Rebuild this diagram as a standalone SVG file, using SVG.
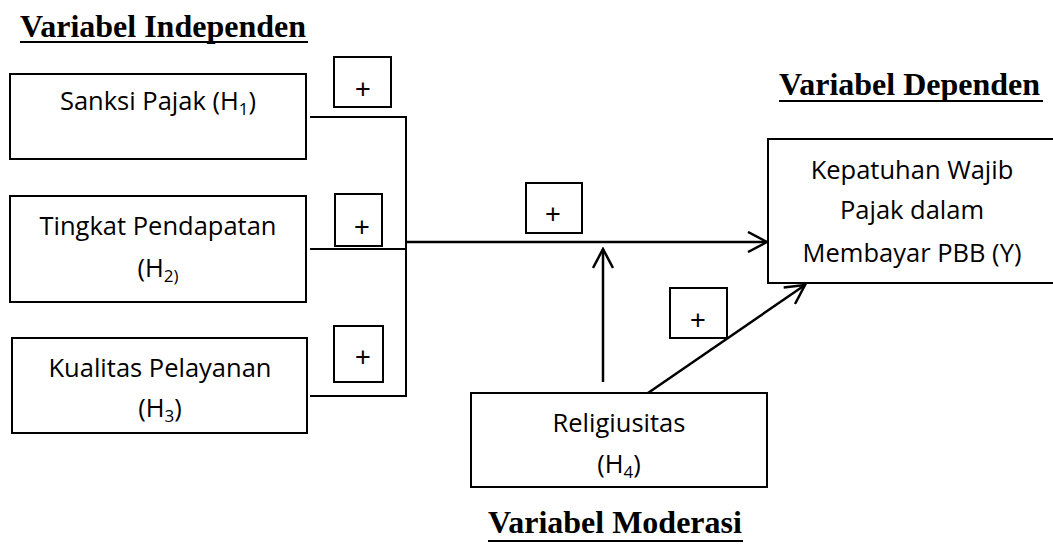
<svg xmlns="http://www.w3.org/2000/svg" width="1053" height="545" viewBox="0 0 1053 545">
<style>
.box{fill:#fff;stroke:#000;stroke-width:2}
.pbox{fill:#fff;stroke:#000;stroke-width:2}
.t{font-family:"Open Sans","Liberation Sans",sans-serif;font-size:25.5px;fill:#000;text-anchor:middle}
.p{font-family:"Liberation Sans","Open Sans",sans-serif;font-size:27px;fill:#000;text-anchor:middle}
.h{font-family:"Liberation Serif","Times New Roman",serif;font-size:32px;font-weight:bold;fill:#000}
.ln{stroke:#000;stroke-width:2;fill:none}
.ar{stroke:#000;stroke-width:2.5;fill:none}
.ul{stroke:#000;stroke-width:2}
</style>
<defs>
<marker id="arr" viewBox="0 0 22 22" refX="20" refY="11" markerWidth="22" markerHeight="22" markerUnits="userSpaceOnUse" orient="auto">
<path d="M1,1 L20,11 L1,21" fill="none" stroke="#000" stroke-width="2.5"/>
</marker>
</defs>

<g id="title-independen">
<text class="h" x="20" y="37">Variabel Independen</text>
<line class="ul" x1="20" y1="42" x2="308" y2="42"/>
</g>
<g id="title-dependen">
<text class="h" x="779" y="95">Variabel Dependen</text>
<line class="ul" x1="779" y1="101" x2="1043" y2="101"/>
</g>
<g id="title-moderasi">
<text class="h" x="488" y="533">Variabel Moderasi</text>
<line class="ul" x1="488" y1="541" x2="743" y2="541"/>
</g>

<g id="connectors">
<line class="ln" x1="310" y1="117" x2="406" y2="117"/>
<line class="ln" x1="310" y1="249" x2="406" y2="249"/>
<line class="ln" x1="310" y1="396" x2="406" y2="396"/>
<line class="ln" x1="406" y1="116" x2="406" y2="397"/>
<line class="ar" x1="406" y1="242" x2="767" y2="242" marker-end="url(#arr)"/>
<line class="ar" x1="603" y1="382" x2="603" y2="249" marker-end="url(#arr)"/>
<line class="ar" x1="648" y1="393" x2="805" y2="285" marker-end="url(#arr)"/>
</g>

<g id="sanksi">
<rect class="box" x="10" y="74" width="296" height="85"/>
<text class="t" x="158" y="110">Sanksi Pajak (H<tspan font-size="17" dy="5">1</tspan><tspan dy="-5">)</tspan></text>
</g>
<g id="plus1">
<rect class="pbox" x="334" y="57" width="57" height="50"/>
<text class="p" x="363" y="98">+</text>
</g>

<g id="pendapatan">
<rect class="box" x="10" y="196" width="296" height="106"/>
<text class="t" x="158" y="235">Tingkat Pendapatan</text>
<text class="t" x="158" y="277">(H<tspan font-size="17" dy="5">2)</tspan></text>
</g>
<g id="plus2">
<rect class="pbox" x="335" y="194" width="47" height="52"/>
<text class="p" x="362" y="236">+</text>
</g>

<g id="pelayanan">
<rect class="box" x="12" y="338" width="295" height="95"/>
<text class="t" x="160" y="377">Kualitas Pelayanan</text>
<text class="t" x="160" y="417">(H<tspan font-size="17" dy="5">3</tspan><tspan dy="-5">)</tspan></text>
</g>
<g id="plus3">
<rect class="pbox" x="334" y="326" width="49" height="56"/>
<text class="p" x="363" y="366">+</text>
</g>

<g id="plus4">
<rect class="pbox" x="526" y="183" width="56" height="50"/>
<text class="p" x="553" y="223">+</text>
</g>
<g id="plus5">
<rect class="pbox" x="670" y="288" width="57" height="50"/>
<text class="p" x="698" y="329">+</text>
</g>

<g id="kepatuhan">
<rect class="box" x="768" y="139" width="295" height="144"/>
<text class="t" x="912" y="179">Kepatuhan Wajib</text>
<text class="t" x="912" y="219">Pajak dalam</text>
<text class="t" x="912" y="262">Membayar PBB (Y)</text>
</g>

<g id="religiusitas">
<rect class="box" x="471" y="393" width="296" height="94"/>
<text class="t" x="619" y="432">Religiusitas</text>
<text class="t" x="619" y="473">(H<tspan font-size="17" dy="5">4</tspan><tspan dy="-5">)</tspan></text>
</g>
</svg>
